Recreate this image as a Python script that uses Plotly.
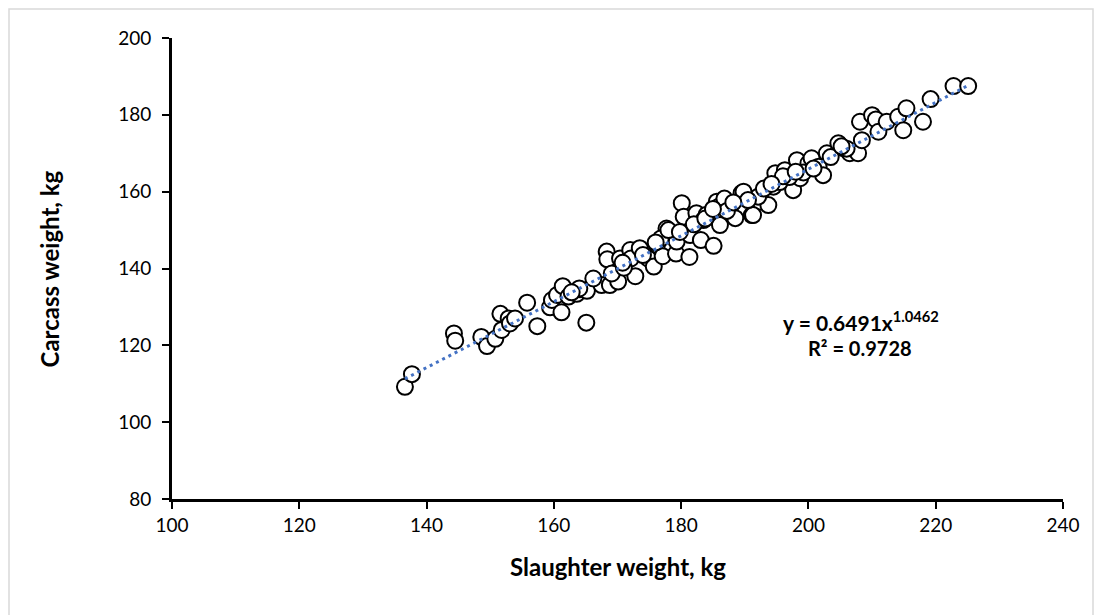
import numpy as np
import plotly.graph_objects as go

slaughter_weight = [
    136.6, 137.7, 144.3, 144.5, 148.6, 149.5, 150.8, 151.6, 151.8, 152.9,
    153.1, 153.9, 155.8, 157.4, 159.4, 159.7, 160.5, 161.2, 161.4, 162.3,
    163.6, 164.1, 165.2, 165.1, 167.5, 168.8, 170.1, 164.0, 166.2, 168.3,
    168.4, 169.1, 170.4, 172.0, 172.1, 172.8, 173.5, 174.8, 175.7, 176.2,
    177.1, 177.7, 178.5, 179.2, 179.3, 180.1, 180.4, 181.3, 181.4, 182.4,
    183.1, 183.5, 185.1, 185.6, 185.9, 186.1, 187.7, 188.5, 189.5, 191.1,
    192.4, 193.7, 194.5, 194.8, 191.3, 192.1, 196.3, 197.6, 198.2, 198.7,
    200.0, 200.5, 201.6, 202.3, 202.9, 204.7, 205.5, 206.5, 207.8, 208.1,
    208.4, 210.0, 210.6, 211.0, 212.3, 214.1, 214.9, 215.4, 218.0, 219.2,
    222.8, 225.1, 176.8, 178.0, 182.0, 184.0, 186.8, 189.8, 190.5, 195.5,
    197.0, 199.2, 203.5, 206.0, 171.0, 174.0, 179.8, 187.2, 193.0, 196.0,
    176.0, 183.8, 188.2, 194.2, 200.8, 205.2, 162.8, 170.8, 185.0, 198.0,
]
carcass_weight = [
    109.2, 112.5, 123.1, 121.2, 122.2, 119.8, 121.7, 128.2, 124.0, 127.0,
    125.7, 127.0, 131.1, 125.0, 129.9, 131.8, 133.1, 128.6, 135.4, 132.7,
    133.4, 134.6, 134.2, 125.9, 135.7, 135.7, 136.6, 134.8, 137.4, 144.4,
    142.4, 138.7, 142.6, 144.8, 142.6, 138.0, 145.3, 142.6, 140.5, 146.1,
    143.2, 150.4, 149.2, 143.9, 147.0, 157.0, 153.5, 143.0, 148.7, 154.4,
    147.4, 152.6, 145.9, 157.4, 156.1, 151.3, 156.1, 153.1, 159.6, 153.9,
    157.4, 156.5, 161.3, 164.8, 153.9, 158.7, 165.6, 160.4, 168.2, 163.5,
    167.4, 168.7, 166.5, 164.3, 170.0, 172.6, 171.3, 170.0, 170.0, 178.2,
    173.4, 179.9, 178.8, 175.6, 178.2, 179.5, 176.0, 181.7, 178.2, 184.1,
    187.5, 187.5, 147.8, 150.0, 151.5, 154.0, 158.2, 160.0, 157.8, 162.5,
    163.8, 165.0, 169.0, 171.2, 140.2, 143.5, 149.5, 155.0, 160.8, 164.0,
    146.8, 153.0, 157.2, 162.0, 166.0, 171.8, 133.8, 141.5, 155.5, 165.2,
]

x_ticks = [100, 120, 140, 160, 180, 200, 220, 240]
y_ticks = [80, 100, 120, 140, 160, 180, 200]

fit_a = 0.6491
fit_b = 1.0462
fit_r2 = 0.9728

xs = np.array(slaughter_weight)
trend_x = np.linspace(xs.min(), xs.max(), 100)
trend_y = fit_a * trend_x ** fit_b

FONT = "Lato, 'Open Sans', sans-serif"

fig = go.Figure()
fig.add_trace(go.Scatter(
    x=slaughter_weight, y=carcass_weight, mode="markers",
    marker=dict(size=16, color="white", line=dict(color="black", width=2)),
    showlegend=False,
))
fig.add_trace(go.Scatter(
    x=trend_x, y=trend_y, mode="lines",
    line=dict(color="#4472C4", width=3, dash="3px,4px"),
    showlegend=False,
))

axis_common = dict(
    showgrid=False, zeroline=False, showline=True, linecolor="black", linewidth=3,
    ticks="outside", ticklen=7, tickwidth=2, tickcolor="black",
    tickfont=dict(family=FONT, size=19, color="black"),
)
fig.update_xaxes(range=[100, 240], tickvals=x_ticks, **axis_common)
fig.update_yaxes(range=[80, 200], tickvals=y_ticks, ticklabelstandoff=7, **axis_common)

# page body has an 8px margin; margins chosen so the plot area lands where the reference has it
fig.update_layout(
    width=1102, height=615,
    margin=dict(l=164, r=47, t=30, b=124),
    paper_bgcolor="white", plot_bgcolor="white",
    font=dict(family=FONT, color="black"),
    annotations=[
        dict(text="<b>Slaughter weight, kg</b>", xref="paper", yref="paper",
             x=0.5, y=-0.1475, xanchor="center", yanchor="middle", showarrow=False,
             font=dict(size=24, family=FONT)),
        dict(text="<b>Carcass weight, kg</b>", xref="paper", yref="paper",
             x=-0.137, y=0.5, xanchor="center", yanchor="middle", showarrow=False,
             textangle=-90, font=dict(size=24, family=FONT)),
        dict(text=f"<b>y = {fit_a}x<sup>{fit_b}</sup></b>", xref="x", yref="y",
             x=208.3, y=126.3, xanchor="center", yanchor="middle", showarrow=False,
             font=dict(size=21, family=FONT)),
        dict(text=f"<b>R² = {fit_r2}</b>", xref="x", yref="y",
             x=208.1, y=119.3, xanchor="center", yanchor="middle", showarrow=False,
             font=dict(size=20, family=FONT)),
    ],
    shapes=[dict(type="rect", xref="paper", yref="paper",
                 x0=(9 - 172) / 891, x1=(1093 - 172) / 891,
                 y0=(499 - 620) / 461, y1=(499 - 9) / 461,
                 line=dict(color="#D9D9D9", width=1.5), layer="below")],
)

fig.write_html("out.html")
